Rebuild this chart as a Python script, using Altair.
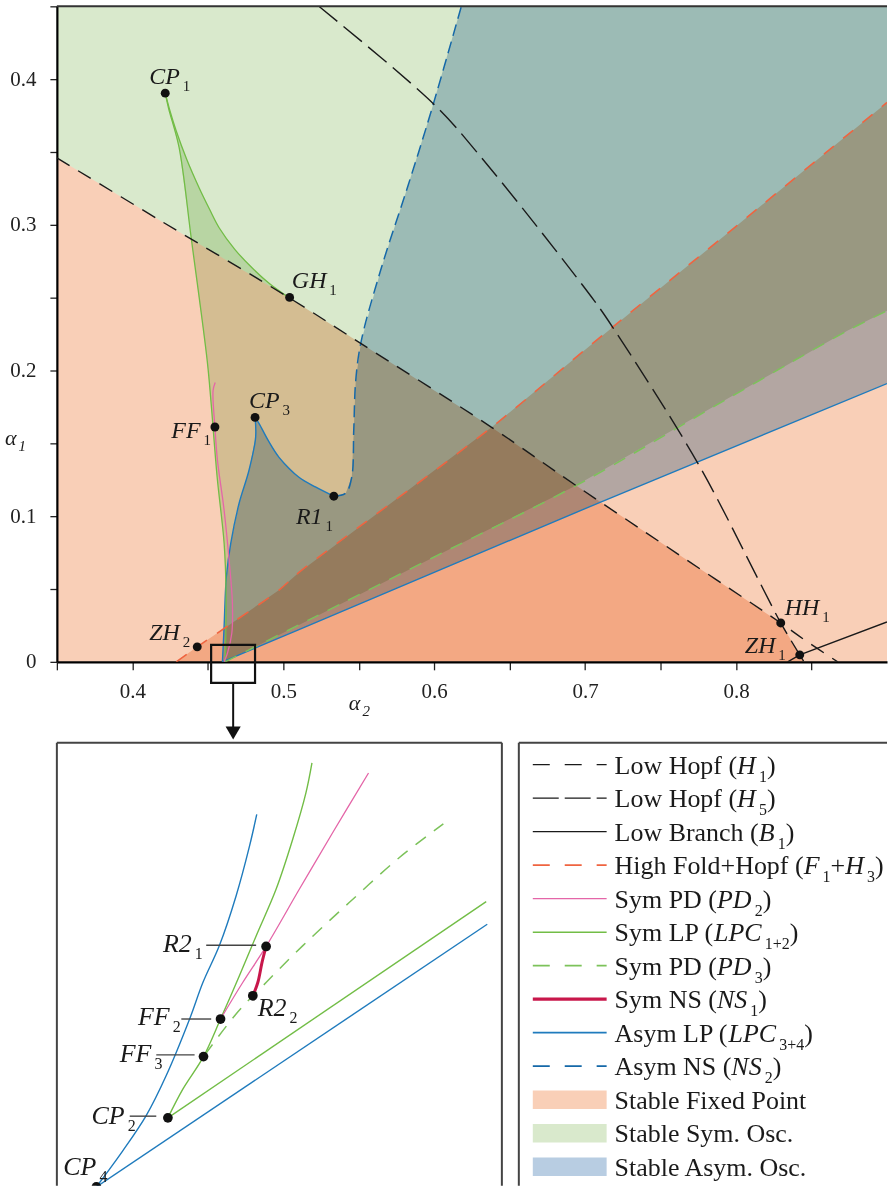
import altair as alt
import pandas as pd

SERIF = "Liberation Serif"
INK = "#1a1a1a"
FRAME = "#333333"

# ---------------------------------------------------------------------------
# Bifurcation curves in the (alpha2, alpha1) plane
# ---------------------------------------------------------------------------
# Low Hopf H1
H1_A2 = [0.350, 0.420, 0.5038, 0.550, 0.638, 0.694, 0.760, 0.8296, 0.8455, 0.8673]
H1_A1 = [0.346, 0.302, 0.2500, 0.2195, 0.161, 0.121, 0.075, 0.0267, 0.0150, 0.0]
# Low Hopf H5
H5_A2 = [0.5236, 0.5996, 0.629, 0.706, 0.7197, 0.7748, 0.8155, 0.8296, 0.8422, 0.8450]
H5_A1 = [0.450, 0.383, 0.349, 0.248, 0.2274, 0.1361, 0.0550, 0.0267, 0.0048, 0.0]
# Low branch B1
B1_A2 = [0.8342, 0.8422, 0.900]
B1_A1 = [0.0, 0.0048, 0.0274]
# High fold + Hopf (F1 + H3)
FH_A2 = [0.4291, 0.4430, 0.4661, 0.4972, 0.510, 0.638, 0.702, 0.800, 0.900]
FH_A1 = [0.0, 0.0103, 0.0267, 0.0493, 0.061, 0.161, 0.216, 0.299, 0.384]
# Sym PD (PD2)
PD2_A2 = [0.4549, 0.4535, 0.4547, 0.4564, 0.4608, 0.4641, 0.4663, 0.4659, 0.4630, 0.4608]
PD2_A1 = [0.1918, 0.1863, 0.1612, 0.1384, 0.1041, 0.0699, 0.0402, 0.0196, 0.0059, 0.0]
# Sym LP (LPC1+2): branch CP1 -> bottom
LPCS_A2 = [0.4218, 0.4240, 0.4310, 0.4390, 0.4496, 0.4522, 0.4562, 0.4608, 0.4621, 0.4615]
LPCS_A1 = [0.3904, 0.3800, 0.3530, 0.2910, 0.2068, 0.1774, 0.1267, 0.0815, 0.0473, 0.0]
# Sym LP (LPC1+2): branch CP1 -> GH1
LPCC_A2 = [0.4218, 0.4250, 0.4291, 0.4360, 0.4443, 0.4510, 0.4575, 0.4680, 0.4793, 0.4910, 0.5038]
LPCC_A1 = [0.3904, 0.3780, 0.3644, 0.3450, 0.3253, 0.3110, 0.2980, 0.2830, 0.2705, 0.2595, 0.2500]
# Sym PD (PD3)
PD3_A2 = [0.4615, 0.517, 0.600, 0.694, 0.800, 0.874, 0.900]
PD3_A1 = [0.0, 0.0288, 0.072, 0.121, 0.184, 0.2274, 0.241]
# Asym LP (LPC3+4): CP3 -> R1
LPAR_A2 = [0.4813, 0.4839, 0.4900, 0.4972, 0.5104, 0.5216, 0.5335]
LPAR_A1 = [0.1678, 0.1637, 0.1520, 0.1404, 0.1267, 0.1199, 0.1137]
# Asym LP (LPC3+4): CP3 -> bottom
LPAL_A2 = [0.4813, 0.4817, 0.4773, 0.4707, 0.4652, 0.4623, 0.4608, 0.4597]
LPAL_A1 = [0.1678, 0.1543, 0.1315, 0.1087, 0.0813, 0.0584, 0.0242, 0.0]
# Asym LP (LPC3+4): lower straight branch
LPAB_A2 = [0.4597, 0.510, 0.7087, 0.900]
LPAB_A1 = [0.0, 0.022, 0.109, 0.191]
# Asym NS (NS2): R1 -> top
NS2_A2 = [0.5335, 0.5414, 0.5454, 0.5467, 0.5480, 0.5515, 0.5650, 0.5830, 0.5980, 0.6180]
NS2_A1 = [0.1137, 0.1158, 0.1270, 0.1590, 0.1930, 0.2195, 0.2705, 0.3280, 0.3780, 0.4500]

# Codimension-two points
PT_NAME = ["CP", "GH", "CP", "FF", "R1", "ZH", "HH", "ZH"]
PT_SUB = ["1", "1", "3", "1", "1", "2", "1", "1"]
PT_A2 = [0.4218, 0.5042, 0.4813, 0.4547, 0.5335, 0.4430, 0.8296, 0.8422]
PT_A1 = [0.3904, 0.2502, 0.1678, 0.1612, 0.1137, 0.0103, 0.0267, 0.0048]
# label anchors (left end, baseline)
PT_LX = [0.4112, 0.5057, 0.4773, 0.4258, 0.5084, 0.4112, 0.8323, 0.8058]
PT_LY = [0.3966, 0.2569, 0.1740, 0.1534, 0.0945, 0.0151, 0.0322, 0.0062]

# zoom frame drawn on the main panel
ZOOM_A2 = [0.4522, 0.4813]
ZOOM_A1 = [-0.0144, 0.0116]
ARROW_A2 = 0.4668
ARROW_A1 = [-0.0144, -0.0455, -0.0488]

# ---------------------------------------------------------------------------
# Magnified neighbourhood of the origin of the cusps
# ---------------------------------------------------------------------------
Z_LPAL_A2 = [0.45952, 0.46129, 0.46283, 0.46415, 0.46570, 0.46658, 0.46768, 0.46878, 0.46967, 0.47015]
Z_LPAL_A1 = [0.00055, 0.00297, 0.00529, 0.00793, 0.01168, 0.01410, 0.01657, 0.01984, 0.02314, 0.02524]
Z_LPAB_A2 = [0.45952, 0.48543]
Z_LPAB_A1 = [0.00055, 0.01796]
Z_LPCU_A2 = [0.46426, 0.46526, 0.46662, 0.46775, 0.46900, 0.47011, 0.47143, 0.47253, 0.47341, 0.47381]
Z_LPCU_A1 = [0.00513, 0.00705, 0.00919, 0.01168, 0.01455, 0.01719, 0.02028, 0.02358, 0.02667, 0.02866]
Z_LPCL_A2 = [0.46426, 0.48536]
Z_LPCL_A1 = [0.00513, 0.01946]
Z_PD2_A2 = [0.46775, 0.46922, 0.47077, 0.47297, 0.47518, 0.47756]
Z_PD2_A1 = [0.01168, 0.01410, 0.01649, 0.02028, 0.02403, 0.02799]
Z_PD3_A2 = [0.46671, 0.46878, 0.47077, 0.47319, 0.47628, 0.47959, 0.48252]
Z_PD3_A1 = [0.00930, 0.01201, 0.01410, 0.01653, 0.01940, 0.02237, 0.02462]
Z_NS1_A2 = [0.47077, 0.47050, 0.47022, 0.46989]
Z_NS1_A1 = [0.01649, 0.01543, 0.01410, 0.01322]

Z_PT_NAME = ["R2", "R2", "FF", "FF", "CP", "CP"]
Z_PT_SUB = ["1", "2", "2", "3", "2", "4"]
Z_PT_A2 = [0.47077, 0.46989, 0.46775, 0.46662, 0.46426, 0.45952]
Z_PT_A1 = [0.01649, 0.01322, 0.01168, 0.00919, 0.00513, 0.00055]
Z_LX = [0.46393, 0.47021, 0.46228, 0.46107, 0.45920, 0.45732]
Z_LY = [0.01613, 0.01186, 0.01128, 0.00886, 0.00474, 0.00136]
# leader lines (start, end, level)
Z_LEAD_A2 = [0.46680, 0.46515, 0.46349, 0.46173]
Z_LEAD_A2E = [0.47011, 0.46713, 0.46603, 0.46349]
Z_LEAD_A1 = [0.01657, 0.01168, 0.00930, 0.00524]

# ---------------------------------------------------------------------------
# Colours
# ---------------------------------------------------------------------------
SALMON = "#f9cfb7"
GREEN_FILL = "#d9e9cc"
BLUE_FILL = "#b8cde2"
RED = "#ef6440"
PINK = "#e466a8"
GREEN = "#72bd46"
GREEN_D = "#7cc25a"
CRIMSON = "#c8174b"
BLUE = "#1f7bbd"
BLUE_D = "#1568a8"

# ---------------------------------------------------------------------------
# Text metrics (Times-compatible advance widths, per 1000 em)
# ---------------------------------------------------------------------------
ROMAN = {" ": 250, "(": 333, ")": 333, "+": 564, ".": 250, "L": 611, "o": 500, "w": 722,
         "H": 722, "p": 500, "f": 333, "B": 667, "r": 333, "a": 444, "n": 500, "c": 444,
         "h": 500, "i": 278, "g": 500, "F": 556, "l": 278, "d": 500, "S": 556, "y": 500,
         "m": 778, "P": 556, "D": 722, "N": 722, "C": 667, "s": 389, "t": 278, "b": 500,
         "e": 444, "A": 722, "O": 722, "x": 500}
ITALIC = {"H": 722, "P": 611, "D": 722, "L": 556, "C": 667, "N": 667, "S": 500, "B": 611,
          "F": 611, "R": 611, "Z": 556, "G": 722, "+": 675}


def advance(text, size, italic):
    table = ITALIC if italic else ROMAN
    return sum(table.get(ch, 500) for ch in text) * size / 1000.0


def rich(x0, y0, parts, size, sub_size, px_per_unit):
    recs = []
    x = x0
    prev_italic = False
    for text, style in parts:
        is_sub = style in ("s", "si")
        if is_sub and prev_italic:
            x += 0.12 * size / px_per_unit
        recs.append(dict(x=x, y=y0, text=text, style=style))
        x += advance(text, sub_size if is_sub else size, style in ("i", "si")) / px_per_unit
        prev_italic = style == "i"
    return recs


def path_df(a2, a1):
    return pd.DataFrame({"a2": a2, "a1": a1, "i": list(range(len(a2)))})


def frame_edges(edges, w, h, color=FRAME, width=2.0):
    """Panel border drawn edge by edge (top / left / right)."""
    one = pd.DataFrame({"k": [0]})
    out = []
    for e in edges:
        base = alt.Chart(one).mark_rule(color=color, strokeWidth=width)
        if e == "top":
            out.append(base.encode(x=alt.value(0), x2=alt.value(w), y=alt.value(0)))
        elif e == "left":
            out.append(base.encode(x=alt.value(0), y=alt.value(0), y2=alt.value(h)))
        elif e == "right":
            out.append(base.encode(x=alt.value(w), y=alt.value(0), y2=alt.value(h)))
    return out


# ---------------------------------------------------------------------------
# Main panel
# ---------------------------------------------------------------------------
MAIN_W, MAIN_H = 832, 657
X_DOM, Y_DOM = [0.35, 0.90], [0.0, 0.45]
MX = MAIN_W / (X_DOM[1] - X_DOM[0])
xs_main = alt.Scale(domain=X_DOM, nice=False, zero=False)
ys_main = alt.Scale(domain=Y_DOM, nice=False, zero=False)

X_TICKS = [0.35, 0.40, 0.45, 0.50, 0.55, 0.60, 0.65, 0.70, 0.75, 0.80, 0.85]
Y_TICKS = [0.0, 0.05, 0.10, 0.15, 0.20, 0.25, 0.30, 0.35, 0.40, 0.45]

LABELLED = "round(datum.value*100) % 10 == 0"
axis_common = dict(title=None, grid=False, domainColor="#000", domainWidth=2.2,
                   tickColor="#222", tickWidth=1.3, labelFont=SERIF,
                   labelFontSize={"condition": {"test": LABELLED, "value": 21}, "value": 0},
                   labelColor="#222")
x_axis = alt.Axis(values=X_TICKS, tickSize=8, labelPadding=11,
                  labelExpr=f"{LABELLED} ? format(datum.value, '.1f') : ''",
                  **axis_common)
y_axis = alt.Axis(values=Y_TICKS, tickSize=7, labelPadding=14,
                  labelExpr=f"round(datum.value*100) == 0 ? '0' : ({LABELLED} ? format(datum.value, '.1f') : '')",
                  **axis_common)


def mx(field="a2"):
    return alt.X(f"{field}:Q", scale=xs_main, axis=x_axis)


def my(field="a1"):
    return alt.Y(f"{field}:Q", scale=ys_main, axis=y_axis)


def region(a2, a1, color):
    return alt.Chart(path_df(a2, a1)).mark_line(
        fill=color, strokeWidth=0, blend="multiply", interpolate="linear"
    ).encode(x=mx(), y=my(), order=alt.Order("i:Q"))


def curve(a2, a1, color, width=1.4, dash=None, smooth=False):
    kw = dict(color=color, strokeWidth=width, clip=True,
              interpolate="catmull-rom" if smooth else "linear")
    if dash:
        kw["strokeDash"] = dash
    return alt.Chart(path_df(a2, a1)).mark_line(**kw).encode(
        x=mx(), y=my(), order=alt.Order("i:Q"))


def upto(a2, a1, limit):
    pts = [(u, v) for u, v in zip(a2, a1) if u <= limit + 1e-9]
    return [p[0] for p in pts], [p[1] for p in pts]


def rev(seq):
    return list(reversed(seq))


# stability regions
h1a_x, h1a_y = upto(H1_A2, H1_A1, 0.694)
pd3_hi = [(u, v) for u, v in zip(PD3_A2, PD3_A1) if u > 0.694]
pd3_lo = [(u, v) for u, v in zip(PD3_A2, PD3_A1) if u <= 0.694]

sym_above = region(
    [X_DOM[0]] + h1a_x + [p[0] for p in pd3_hi] + [X_DOM[1], X_DOM[0]],
    [Y_DOM[1]] + h1a_y + [p[1] for p in pd3_hi] + [Y_DOM[1], Y_DOM[1]],
    GREEN_FILL)

h1_back = [(u, v) for u, v in zip(H1_A2, H1_A1) if 0.5038 <= u < 0.694]
sym_cusp = region(
    LPCS_A2 + [p[0] for p in pd3_lo] + [p[0] for p in rev(h1_back)] + rev(LPCC_A2),
    LPCS_A1 + [p[1] for p in pd3_lo] + [p[1] for p in rev(h1_back)] + rev(LPCC_A1),
    GREEN_FILL)

asym = region(
    rev(NS2_A2) + rev(LPAR_A2) + LPAL_A2 + LPAB_A2 + [X_DOM[1]],
    rev(NS2_A1) + rev(LPAR_A1) + LPAL_A1 + LPAB_A1 + [Y_DOM[1]],
    BLUE_FILL)

h1_low = [(u, v) for u, v in zip(H1_A2, H1_A1) if u <= 0.8296]
h5_low = [(u, v) for u, v in zip(H5_A2, H5_A1) if u > 0.8296]
fp_low = region(
    [p[0] for p in h1_low] + [p[0] for p in h5_low] + [X_DOM[0]],
    [p[1] for p in h1_low] + [p[1] for p in h5_low] + [0.0],
    SALMON)

fp_high = region(FH_A2 + [X_DOM[1]], FH_A1 + [0.0], SALMON)

lines_main = [
    curve(LPAB_A2, LPAB_A1, BLUE, 1.4),
    curve(LPAR_A2, LPAR_A1, BLUE, 1.4, smooth=True),
    curve(LPAL_A2, LPAL_A1, BLUE, 1.4, smooth=True),
    curve(NS2_A2, NS2_A1, BLUE_D, 1.5, [12, 6], smooth=True),
    curve(PD3_A2, PD3_A1, GREEN_D, 1.5, [13, 10], smooth=True),
    curve(LPCS_A2, LPCS_A1, GREEN, 1.3, smooth=True),
    curve(LPCC_A2, LPCC_A1, GREEN, 1.3, smooth=True),
    curve(PD2_A2, PD2_A1, PINK, 1.3, smooth=True),
    curve(FH_A2, FH_A1, RED, 1.6, [13, 12], smooth=True),
    curve(H1_A2, H1_A1, INK, 1.4, [15, 10], smooth=True),
    curve(H5_A2, H5_A1, INK, 1.4, [24, 8], smooth=True),
    curve(B1_A2, B1_A1, INK, 1.4),
]

pts_main = alt.Chart(pd.DataFrame({"a2": PT_A2, "a1": PT_A1})).mark_circle(
    size=80, color="#111", opacity=1).encode(x=mx(), y=my())

lbl_recs = []
for name, sub, lx, ly in zip(PT_NAME, PT_SUB, PT_LX, PT_LY):
    lbl_recs += rich(lx, ly, [(name, "i"), (sub, "s")], 24, 15, MX)
# axis titles alpha_2 and alpha_1
lbl_recs += rich(0.5434, -0.0329, [("α", "i"), ("2", "si")], 22, 15, MX)
lbl_recs += rich(0.3156, 0.1486, [("α", "i"), ("1", "si")], 22, 15, MX)
lbl_df = pd.DataFrame(lbl_recs).rename(columns={"x": "a2", "y": "a1"})


def text_layer(df, style, size, italic, dy, xenc, yenc, color=INK, clip=False):
    return alt.Chart(df[df["style"] == style]).mark_text(
        font=SERIF, fontSize=size, fontStyle="italic" if italic else "normal",
        align="left", baseline="alphabetic", dy=dy, color=color, clip=clip
    ).encode(x=xenc, y=yenc, text="text:N")


main_text = [
    text_layer(lbl_df[lbl_df["text"] != "α"], "i", 24, True, 0, mx(), my()),
    text_layer(lbl_df[lbl_df["text"] == "α"], "i", 22, True, 0, mx(), my()),
    text_layer(lbl_df, "s", 15, False, 7, mx(), my()),
    text_layer(lbl_df, "si", 15, True, 6, mx(), my()),
]

zoom_frame = alt.Chart(pd.DataFrame({"a2": [ZOOM_A2[0]], "a2e": [ZOOM_A2[1]],
                                     "a1": [ZOOM_A1[0]], "a1e": [ZOOM_A1[1]]})).mark_rect(
    fillOpacity=0, stroke="#111", strokeWidth=2.2).encode(
    x=mx(), x2="a2e:Q", y=my(), y2="a1e:Q")
arrow_stem = alt.Chart(pd.DataFrame({"a2": [ARROW_A2], "a1": [ARROW_A1[0]], "a1e": [ARROW_A1[1]]})).mark_rule(
    color="#111", strokeWidth=2).encode(x=mx(), y=my(), y2="a1e:Q")
arrow_head = alt.Chart(pd.DataFrame({"a2": [ARROW_A2], "a1": [ARROW_A1[2]]})).mark_point(
    shape="triangle-down", filled=True, size=230, color="#111", opacity=1).encode(x=mx(), y=my())

main = alt.layer(
    fp_low, fp_high, sym_above, sym_cusp, asym,
    *lines_main, pts_main, *main_text, zoom_frame, arrow_stem, arrow_head,
    *frame_edges(["top"], MAIN_W, MAIN_H)
).properties(width=MAIN_W, height=MAIN_H)

# ---------------------------------------------------------------------------
# Magnified panel
# ---------------------------------------------------------------------------
IN_W, IN_H = 446, 444
ZX = IN_W / 0.0295
xs_in = alt.Scale(domain=[0.4569, 0.4569 + IN_W / ZX], nice=False, zero=False)
ys_in = alt.Scale(domain=[0.0300 - IN_H / ZX, 0.0300], nice=False, zero=False)


def ix(field="a2"):
    return alt.X(f"{field}:Q", scale=xs_in, axis=None)


def iy(field="a1"):
    return alt.Y(f"{field}:Q", scale=ys_in, axis=None)


def icurve(a2, a1, color, width=1.4, dash=None, smooth=True):
    kw = dict(color=color, strokeWidth=width, clip=True,
              interpolate="catmull-rom" if smooth else "linear")
    if dash:
        kw["strokeDash"] = dash
    return alt.Chart(path_df(a2, a1)).mark_line(**kw).encode(
        x=ix(), y=iy(), order=alt.Order("i:Q"))


inset_lines = [
    icurve(Z_LPAL_A2, Z_LPAL_A1, BLUE, 1.4),
    icurve(Z_LPAB_A2, Z_LPAB_A1, BLUE, 1.4, smooth=False),
    icurve(Z_LPCU_A2, Z_LPCU_A1, GREEN, 1.4),
    icurve(Z_LPCL_A2, Z_LPCL_A1, GREEN, 1.4, smooth=False),
    icurve(Z_PD2_A2, Z_PD2_A1, PINK, 1.3),
    icurve(Z_PD3_A2, Z_PD3_A1, GREEN_D, 1.5, [13, 10]),
    icurve(Z_NS1_A2, Z_NS1_A1, CRIMSON, 3.0),
]
leaders = alt.Chart(pd.DataFrame({"a2": Z_LEAD_A2, "a2e": Z_LEAD_A2E, "a1": Z_LEAD_A1})).mark_rule(
    color="#444", strokeWidth=1.4).encode(x=ix(), x2="a2e:Q", y=iy())
inset_pts = alt.Chart(pd.DataFrame({"a2": Z_PT_A2, "a1": Z_PT_A1})).mark_circle(
    size=95, color="#111", opacity=1, clip=True).encode(x=ix(), y=iy())
z_recs = []
for name, sub, lx, ly in zip(Z_PT_NAME, Z_PT_SUB, Z_LX, Z_LY):
    z_recs += rich(lx, ly, [(name, "i"), (sub, "s")], 26, 16, ZX)
z_df = pd.DataFrame(z_recs).rename(columns={"x": "a2", "y": "a1"})
inset_text = [
    text_layer(z_df, "i", 26, True, 0, ix(), iy(), clip=True),
    text_layer(z_df, "s", 16, False, 7, ix(), iy(), clip=True),
]
inset = alt.layer(
    *inset_lines, leaders, inset_pts, *inset_text,
    *frame_edges(["top", "left", "right"], IN_W, IN_H, color="#444")
).properties(width=IN_W, height=IN_H)

# ---------------------------------------------------------------------------
# Key
# ---------------------------------------------------------------------------
LEG_W = 369
ROW_PX = 33.58
LEG_FONT = 26
LEG_SUB = 16
LEG_PARTS = [
    [("Low Hopf (", "r"), ("H", "i"), ("1", "s"), (")", "r")],
    [("Low Hopf (", "r"), ("H", "i"), ("5", "s"), (")", "r")],
    [("Low Branch (", "r"), ("B", "i"), ("1", "s"), (")", "r")],
    [("High Fold+Hopf (", "r"), ("F", "i"), ("1", "s"), ("+", "r"), ("H", "i"), ("3", "s"), (")", "r")],
    [("Sym PD (", "r"), ("PD", "i"), ("2", "s"), (")", "r")],
    [("Sym LP (", "r"), ("LPC", "i"), ("1+2", "s"), (")", "r")],
    [("Sym PD (", "r"), ("PD", "i"), ("3", "s"), (")", "r")],
    [("Sym NS (", "r"), ("NS", "i"), ("1", "s"), (")", "r")],
    [("Asym LP (", "r"), ("LPC", "i"), ("3+4", "s"), (")", "r")],
    [("Asym NS (", "r"), ("NS", "i"), ("2", "s"), (")", "r")],
    [("Stable Fixed Point", "r")],
    [("Stable Sym. Osc.", "r")],
    [("Stable Asym. Osc.", "r")],
]
LEG_LINE_COLOR = [INK, INK, INK, RED, PINK, GREEN, GREEN_D, CRIMSON, BLUE, BLUE_D]
LEG_LINE_DASH = [[17, 15], [26, 6], None, [17, 15], None, None, [17, 15], None, None, [17, 15]]
LEG_LINE_WIDTH = [1.4, 1.4, 1.4, 1.6, 1.4, 1.5, 1.6, 3.2, 1.8, 1.6]
LEG_SWATCH = [SALMON, GREEN_FILL, BLUE_FILL]
LEG_SAMPLE_X = [14, 88]
LEG_TEXT_X = 96

xs_leg = alt.Scale(domain=[0, LEG_W], nice=False, zero=False)
ys_leg = alt.Scale(domain=[-22 / ROW_PX, (IN_H - 22) / ROW_PX], nice=False, zero=False, reverse=True)
lx = alt.X("x:Q", scale=xs_leg, axis=None)
ly = alt.Y("y:Q", scale=ys_leg, axis=None)

leg_layers = []
for r, (col, dash, w) in enumerate(zip(LEG_LINE_COLOR, LEG_LINE_DASH, LEG_LINE_WIDTH)):
    kw = dict(color=col, strokeWidth=w)
    if dash:
        kw["strokeDash"] = dash
    leg_layers.append(
        alt.Chart(pd.DataFrame({"x": [LEG_SAMPLE_X[0]], "xe": [LEG_SAMPLE_X[1]], "y": [r]}))
        .mark_rule(**kw).encode(x=lx, x2="xe:Q", y=ly))
half = 9.3 / ROW_PX
for k, col in enumerate(LEG_SWATCH):
    r = len(LEG_LINE_COLOR) + k
    leg_layers.append(
        alt.Chart(pd.DataFrame({"x": [LEG_SAMPLE_X[0]], "xe": [LEG_SAMPLE_X[1]],
                                "y": [r - half], "ye": [r + half]}))
        .mark_rect(color=col, opacity=1).encode(x=lx, x2="xe:Q", y=ly, y2="ye:Q"))

leg_recs = []
for r, parts in enumerate(LEG_PARTS):
    leg_recs += rich(LEG_TEXT_X, r, parts, LEG_FONT, LEG_SUB, 1.0)
leg_df = pd.DataFrame(leg_recs)
leg_layers += [
    text_layer(leg_df, "r", LEG_FONT, False, 9, lx, ly, clip=True),
    text_layer(leg_df, "i", LEG_FONT, True, 9, lx, ly, clip=True),
    text_layer(leg_df, "s", LEG_SUB, False, 17, lx, ly, clip=True),
]
leg_layers += frame_edges(["top", "left"], LEG_W, IN_H, color="#444")
key = alt.layer(*leg_layers).properties(width=LEG_W, height=IN_H)

# ---------------------------------------------------------------------------
chart = alt.vconcat(
    main,
    alt.hconcat(inset, key, spacing=17, bounds="flush"),
    spacing=81, bounds="flush",
).properties(
    background="white",
    padding={"left": 4, "top": 4, "right": 0, "bottom": 0},
).configure_view(strokeWidth=0)

chart.save("out.html", embed_options={"renderer": "svg", "actions": False})
